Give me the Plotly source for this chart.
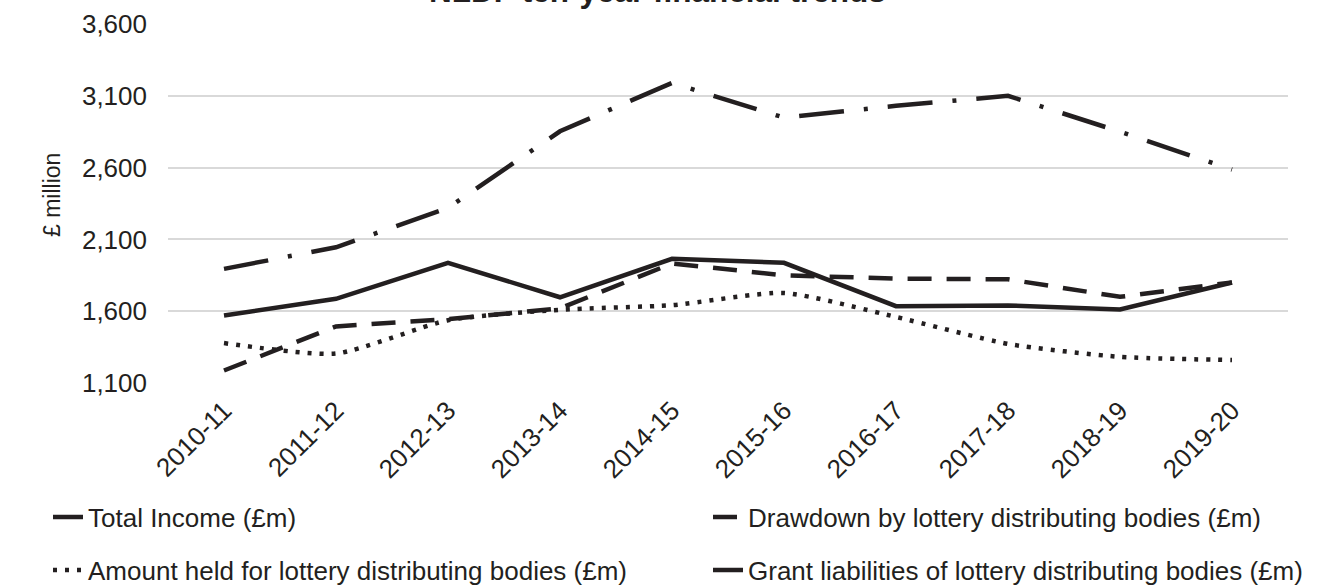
import plotly.graph_objects as go

years = ["2010-11", "2011-12", "2012-13", "2013-14", "2014-15",
         "2015-16", "2016-17", "2017-18", "2018-19", "2019-20"]
total_income = [1570, 1686, 1937, 1697, 1965, 1937, 1635, 1640, 1612, 1800]
drawdown = [1187, 1494, 1545, 1620, 1932, 1850, 1827, 1822, 1700, 1800]
amount_held = [1378, 1305, 1537, 1610, 1642, 1727, 1560, 1372, 1282, 1260]
grant_liabilities = [1895, 2045, 2320, 2853, 3190, 2948, 3030, 3100, 2850, 2586]

names = ["Total Income (£m)", "Drawdown by lottery distributing bodies (£m)",
         "Amount held for lottery distributing bodies (£m)",
         "Grant liabilities of lottery distributing bodies (£m)"]

INK = "#231F20"
FONT = "Liberation Sans, Arial, sans-serif"

fig = go.Figure()
fig.add_trace(go.Scatter(x=years, y=total_income, name=names[0], mode="lines",
                         line=dict(color=INK, width=4.5), legend="legend"))
fig.add_trace(go.Scatter(x=years, y=drawdown, name=names[1], mode="lines",
                         line=dict(color=INK, width=4.5, dash="24px,15px"), legend="legend2"))
fig.add_trace(go.Scatter(x=years, y=amount_held, name=names[2], mode="lines",
                         line=dict(color=INK, width=4.5, dash="4px,8px", shape="spline", smoothing=0.6),
                         legend="legend3"))
fig.add_trace(go.Scatter(x=years, y=grant_liabilities, name=names[3], mode="lines",
                         line=dict(color=INK, width=4.5, dash="45px,20px,4px,20px"), legend="legend4"))

def leg(x, y):
    return dict(xref="container", yref="container", x=x, y=y, xanchor="left", yanchor="middle",
                font=dict(family=FONT, size=26, color=INK), bgcolor="rgba(0,0,0,0)")

fig.update_layout(
    width=1333, height=586, autosize=False,
    margin=dict(l=168, r=45, t=24, b=203, autoexpand=False),
    paper_bgcolor="white", plot_bgcolor="white",
    font=dict(family=FONT, size=26, color=INK),
    showlegend=True,
    legend=leg(48 / 1333, 69 / 586),
    legend2=leg(708 / 1333, 69 / 586),
    legend3=leg(48 / 1333, 16 / 586),
    legend4=leg(708 / 1333, 16 / 586),
    xaxis=dict(type="category", range=[-0.5, 9.5], tickangle=-45, showgrid=False,
               showline=False, zeroline=False, ticks="", ticklabelstandoff=6,
               automargin=False,
               tickfont=dict(family=FONT, size=26, color=INK)),
    yaxis=dict(range=[1100, 3600], dtick=500, tick0=1100, tickformat=",",
               showgrid=True, gridcolor="#D9D9D9", gridwidth=1.5, zeroline=False,
               showline=False, ticks="", ticklabelstandoff=20, automargin=False,
               tickfont=dict(family=FONT, size=26, color=INK)),
    annotations=[
        dict(text="<b>NLDF ten-year financial trends</b>", xref="paper", yref="paper",
             x=(657 - 168) / 1120, y=1 + 33 / 359, xanchor="center", yanchor="middle",
             showarrow=False, font=dict(family=FONT, size=31.5, color=INK)),
        dict(text="£ million", xref="paper", yref="paper", textangle=-90,
             x=(52 - 168) / 1120, y=(383 - 195) / 359, xanchor="center", yanchor="middle",
             showarrow=False, font=dict(family=FONT, size=23, color=INK)),
    ],
)

fig.write_html("out.html", config={"displayModeBar": False},
               post_script="document.body.style.margin='0';document.body.style.overflow='hidden';")
